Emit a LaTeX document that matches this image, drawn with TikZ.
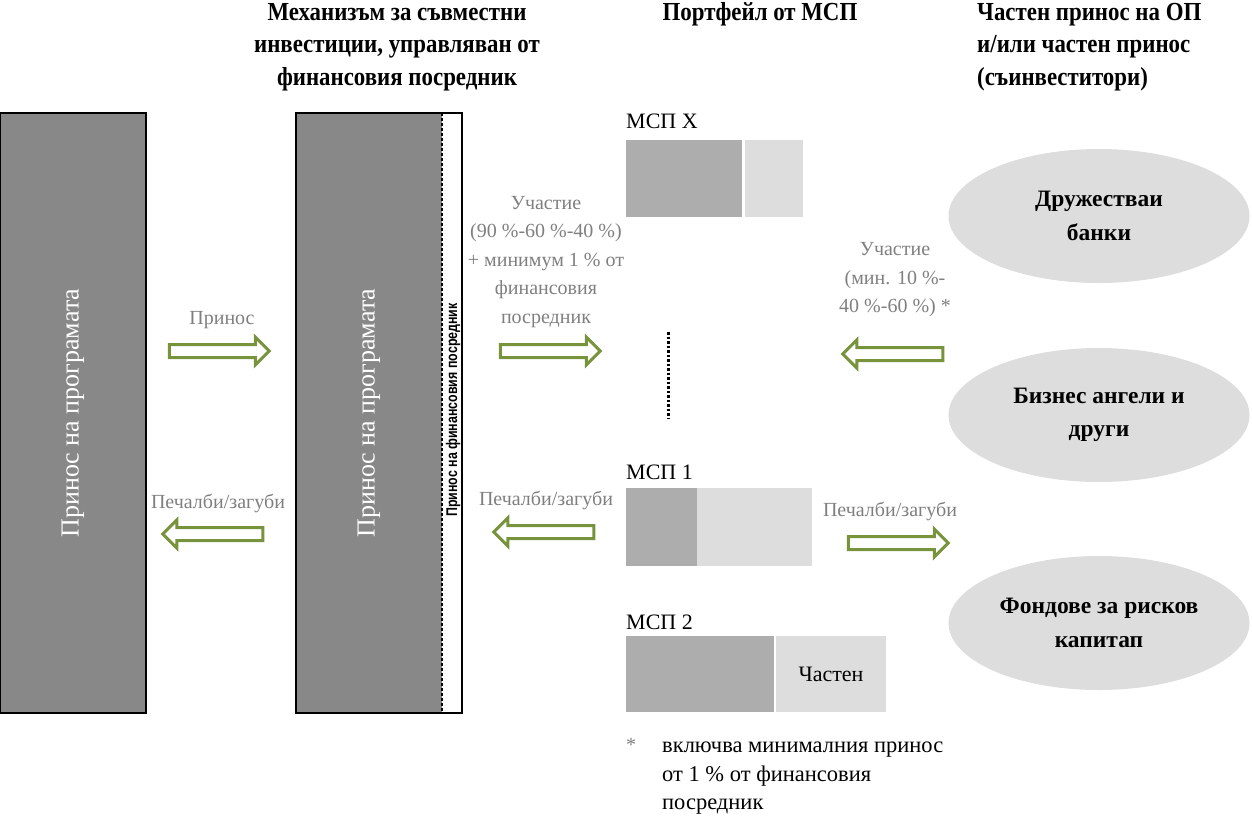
\documentclass[tikz,border=0pt]{standalone}
\usepackage{fontspec}
\setmainfont{Liberation Serif}
\newfontfamily\titlefont{Liberation Serif}[FakeStretch=0.88]
\newfontfamily\narrowfont{Liberation Sans}[FakeStretch=0.8]
\usetikzlibrary{shapes.geometric,shapes.arrows}

\definecolor{boxgray}{RGB}{136,136,136}
\definecolor{smedark}{RGB}{173,173,173}
\definecolor{smelight}{RGB}{221,221,221}
\definecolor{labelgray}{RGB}{127,127,127}
\definecolor{arrowgreen}{RGB}{119,147,60}

\tikzset{
  heading/.style={font=\titlefont\bfseries\fontsize{26}{32.5}\selectfont,align=center,inner sep=0pt},
  graylabel/.style={text=labelgray,font=\fontsize{20}{28.5}\selectfont,align=center,inner sep=0pt},
  flowright/.style={single arrow,draw=arrowgreen,line width=3pt,fill=white,inner xsep=0pt,inner ysep=5pt,
    minimum height=100pt,minimum width=0pt,single arrow head extend=7.5pt},
  flowleft/.style={flowright,shape border rotate=180},
  smepart/.style={anchor=north west,inner sep=0pt,outer sep=0pt,font=\fontsize{22}{26}\selectfont},
  investor/.style={ellipse,fill=smelight,inner sep=0pt,minimum width=301pt,minimum height=134pt,
    align=center,font=\bfseries\fontsize{23.5}{33.5}\selectfont},
}

\begin{document}
\begin{tikzpicture}[x=1pt,y=-1pt]
\useasboundingbox (0,0) rectangle (1252,822);
% Headings
\node[heading] (hmech) at (397,47) {Механизъм за съвместни\\инвестиции, управляван от\\финансовия посредник};
\node[heading] (hport) at (760,14) {Портфейл от МСП};
\node[heading,align=left,anchor=west] (hpriv) at (977,47) {Частен принос на ОП\\и/или частен принос\\(съинвеститори)};
% Programme contribution
\node[draw=black,line width=1.5pt,fill=boxgray,minimum width=146pt,minimum height=600pt,inner sep=0pt] (prog) at (73,413) {};
\node[rotate=90,text=white,font=\fontsize{26}{30}\selectfont] (progtxt) at (prog.center) {Принос на програмата};
% Co-investment mechanism
\node[fill=boxgray,minimum width=146pt,minimum height=600pt,inner sep=0pt,outer sep=0pt] (mech) at (369,413) {};
\node[fill=white,minimum width=20pt,minimum height=600pt,inner sep=0pt,outer sep=0pt,anchor=west] (fistrip) at (mech.east) {};
\draw[line width=1.5pt] (mech.north west) rectangle (fistrip.south east);
\draw[line width=1.2pt,dash pattern=on 3pt off 2pt] (mech.north east) -- (mech.south east);
\node[rotate=90,text=white,font=\fontsize{26}{30}\selectfont] (mechtxt) at (mech.center) {Принос на програмата};
\node[rotate=90,font=\narrowfont\bfseries\fontsize{15.5}{18}\selectfont,inner sep=0pt] (fitxt) at (453,410) {Принос на финансовия посредник};
% Arrows programme <-> mechanism
\node[graylabel] (lbl1) at (222,320) {Принос};
\node[flowright] (arr1) at (216,351) {};
\node[graylabel] (lbl2) at (218,503) {Печалби/загуби};
\node[flowleft] (arr2) at (216,534) {};
% Arrows mechanism <-> portfolio
\node[graylabel] (lbl3) at (546,262) {Участие\\(90 \%-60 \%-40 \%)\\+ минимум 1 \% от\\финансовия\\посредник};
\node[flowright] (arr3) at (547,351) {};
\node[graylabel] (lbl4) at (546,500) {Печалби/загуби};
\node[flowleft] (arr4) at (547,532) {};
% Portfolio of SMEs
\node[anchor=west,inner sep=0pt,font=\fontsize{22}{26}\selectfont] (smex) at (626,121) {МСП Х};
\node[smepart,fill=smedark,minimum width=116pt,minimum height=77pt] (smexa) at (626,140) {};
\node[smepart,fill=smelight,minimum width=58pt,minimum height=77pt] (smexb) at (745,140) {};
\coordinate (dotstop) at (668,332);
\coordinate (dotsbot) at (668,418);
\draw[line width=3pt,dash pattern=on 2.5pt off 2pt] (dotstop) -- (dotsbot);
\node[anchor=west,inner sep=0pt,font=\fontsize{22}{26}\selectfont] (smeone) at (626,472) {МСП 1};
\node[smepart,fill=smedark,minimum width=71pt,minimum height=78pt] (smeonea) at (626,488) {};
\node[smepart,fill=smelight,minimum width=115pt,minimum height=78pt] (smeoneb) at (697,488) {};
\node[anchor=west,inner sep=0pt,font=\fontsize{22}{26}\selectfont] (smetwo) at (626,622) {МСП 2};
\node[smepart,fill=smedark,minimum width=148pt,minimum height=76pt] (smetwoa) at (626,636) {};
\node[smepart,fill=smelight,minimum width=110pt,minimum height=76pt] (smetwob) at (776,636) {};
\node[font=\fontsize{22}{26}\selectfont,inner sep=0pt] (privtxt) at (smetwob.center) {Частен};
% Arrows portfolio <-> co-investors
\node[graylabel] (lbl5) at (895,280) {Участие\\(мин. 10 \%-\\40 \%-60 \%) *};
\node[flowleft] (arr5) at (896,354) {};
\node[graylabel] (lbl6) at (890,511) {Печалби/загуби};
\node[flowright] (arr6) at (895,543) {};
% Co-investors
\node[investor] (coop) at (1099,216) {Дружестваи\\банки};
\node[investor] (angels) at (1099,415) {Бизнес ангели и\\други};
\node[investor] (vc) at (1099,623) {Фондове за рисков\\капитап};
% Footnote
\node[text=labelgray,font=\fontsize{20}{24}\selectfont,inner sep=0pt] (star) at (631,745) {*};
\node[anchor=north west,align=left,inner sep=0pt,font=\fontsize{22.5}{28.5}\selectfont] (note) at (662,742) {включва минималния принос\\от 1 \% от финансовия\\посредник};
\end{tikzpicture}
\end{document}
